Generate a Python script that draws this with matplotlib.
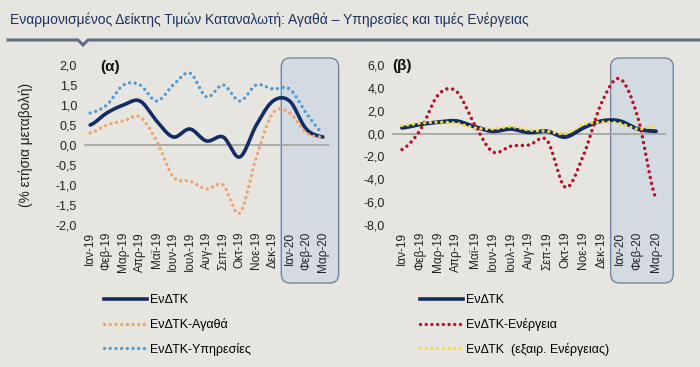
import numpy as np
import matplotlib
matplotlib.use("Agg")
import matplotlib.pyplot as plt
from matplotlib.patches import FancyBboxPatch
from matplotlib.lines import Line2D
from matplotlib.transforms import IdentityTransform

plt.rcParams['font.family'] = ['Liberation Sans', 'DejaVu Sans']

months = ["Ιαν-19", "Φεβ-19", "Μαρ-19", "Απρ-19", "Μαϊ-19", "Ιουν-19", "Ιουλ-19",
          "Αυγ-19", "Σεπ-19", "Οκτ-19", "Νοε-19", "Δεκ-19", "Ιαν-20", "Φεβ-20", "Μαρ-20"]

hicp = [0.5, 0.8, 1.0, 1.1, 0.6, 0.2, 0.4, 0.1, 0.2, -0.3, 0.5, 1.1, 1.1, 0.4, 0.2]
goods = [0.3, 0.5, 0.6, 0.7, 0.1, -0.8, -0.9, -1.1, -1.0, -1.7, -0.3, 0.8, 0.8, 0.3, 0.2]
services = [0.8, 1.0, 1.5, 1.5, 1.1, 1.5, 1.8, 1.2, 1.5, 1.1, 1.5, 1.4, 1.4, 0.8, 0.3]
energy = [-1.4, 0.3, 3.4, 3.7, 0.8, -1.6, -1.1, -1.0, -0.6, -4.7, -1.9, 2.7, 4.8, 1.4, -5.7]
ex_energy = [0.7, 0.9, 1.0, 0.9, 0.5, 0.4, 0.6, 0.3, 0.2, 0.0, 0.8, 1.0, 0.9, 0.4, 0.7]

yticks_a = [2.0, 1.5, 1.0, 0.5, 0.0, -0.5, -1.0, -1.5, -2.0]
yticks_b = [6.0, 4.0, 2.0, 0.0, -2.0, -4.0, -6.0, -8.0]

BG = "#E7E5E0"
NAVY = "#132C63"
ORANGE = "#F0A26C"
BLUE = "#4B9BD8"
RED = "#B8102A"
YELLOW = "#F3DC3C"


def smooth(y, n=20):
    """Excel-like smoothed line (uniform Catmull-Rom / Bezier through the points)."""
    y = np.asarray(y, float)
    x = np.arange(len(y), dtype=float)
    xs, ys = [], []
    for i in range(len(y) - 1):
        p0 = y[i - 1] if i > 0 else y[i]
        p3 = y[i + 2] if i + 2 < len(y) else y[i + 1]
        p1, p2 = y[i], y[i + 1]
        t = np.linspace(0, 1, n, endpoint=(i == len(y) - 2))
        c1 = p1 + (p2 - p0) / 6
        c2 = p2 - (p3 - p1) / 6
        yy = (1 - t) ** 3 * p1 + 3 * (1 - t) ** 2 * t * c1 + 3 * (1 - t) * t ** 2 * c2 + t ** 3 * p2
        xs.append(x[i] + t)
        ys.append(yy)
    return np.concatenate(xs), np.concatenate(ys)


W, H = 700, 367
fig = plt.figure(figsize=(7, 3.67), dpi=100, facecolor=BG)


def px_axes(x0, x1, ytop, ybot):
    return fig.add_axes([x0 / W, 1 - ybot / H, (x1 - x0) / W, (ybot - ytop) / H])


ax1 = px_axes(84, 329, 65, 225)
ax2 = px_axes(392, 666, 65, 225)

dot = (0, (0.01, 1.7))


def style(ax, yticks, xlim, fmt):
    ax.set_facecolor("none")
    for s in ax.spines.values():
        s.set_visible(False)
    ax.set_xlim(*xlim)
    ax.set_ylim(min(yticks), max(yticks))
    ax.set_yticks(yticks)
    ax.set_yticklabels([fmt(v) for v in yticks], fontsize=9, color="#222222")
    ax.set_xticks(range(len(months)))
    ax.set_xticklabels(months, rotation=90, fontsize=8.5, color="#222222", va="top")
    ax.tick_params(length=0, pad=5)
    ax.axhline(0, color="#A6A6A6", lw=1.3, zorder=1)


fmt = lambda v: f"{v:.1f}".replace(".", ",")
style(ax1, yticks_a, (-0.37, 14.37), fmt)
style(ax2, yticks_b, (-0.55, 14.55), fmt)

x, y = smooth(hicp)
ax1.plot(x, y, color=NAVY, lw=2.6, zorder=3, solid_capstyle="round")
x, y = smooth(goods)
ax1.plot(x, y, color=ORANGE, lw=2.4, ls=dot, dash_capstyle="round", zorder=4)
x, y = smooth(services)
ax1.plot(x, y, color=BLUE, lw=2.4, ls=dot, dash_capstyle="round", zorder=5)

x, y = smooth(hicp)
ax2.plot(x, y, color=NAVY, lw=2.8, zorder=3, solid_capstyle="round")
x, y = smooth(energy)
ax2.plot(x, y, color=RED, lw=2.5, ls=dot, dash_capstyle="round", zorder=4)
x, y = smooth(ex_energy)
ax2.plot(x, y, color=YELLOW, lw=2.4, ls=dot, dash_capstyle="round", zorder=5)

ax1.set_ylabel("(% ετήσια μεταβολή)", fontsize=9.8, color="#222222")
ax1.yaxis.set_label_coords(-0.21, 0.5)

# panel labels
fig.text(100 / W, 1 - 67 / H, "(α)", fontsize=11, fontweight="bold", va="center", color="#111111")
fig.text(392 / W, 1 - 66 / H, "(β)", fontsize=11, fontweight="bold", va="center", color="#111111")

# title and rule
fig.text(10 / W, 1 - 20 / H, "Εναρμονισμένος Δείκτης Τιμών Καταναλωτή: Αγαθά – Υπηρεσίες και τιμές Ενέργειας",
         fontsize=10, color="#1B3560", va="center", ha="left")
fig.add_artist(Line2D(np.array([8, 78, 83, 88, 700]) / W, 1 - np.array([40, 40, 45, 40, 40]) / H,
                      transform=fig.transFigure, color="#5E6E82", lw=2.2, solid_joinstyle="miter"))

# shaded boxes (drawn after layout known)
fig.canvas.draw()
for ax in (ax1, ax2):
    xa = ax.transData.transform((11.5, 0))[0]
    xb = ax.transData.transform((14.95, 0))[0]
    box = FancyBboxPatch((xa, H - 283), xb - xa, 283 - 58,
                         boxstyle="round,pad=0,rounding_size=9",
                         transform=IdentityTransform(), facecolor="#D3DAE1",
                         edgecolor="#7088A0", lw=1.0, zorder=-1)
    fig.add_artist(box)

# legends
def leg(handles, labels, xpx):
    fig.legend(handles, labels, loc="upper left", bbox_to_anchor=(xpx / W, 1 - 294 / H),
               frameon=False, fontsize=9, handlelength=3.4, handletextpad=0.25,
               labelspacing=0.95, borderpad=0, borderaxespad=0)

h_navy = Line2D([], [], color=NAVY, lw=2.6)
h_or = Line2D([], [], color=ORANGE, lw=2.4, ls=dot, dash_capstyle="round")
h_bl = Line2D([], [], color=BLUE, lw=2.4, ls=dot, dash_capstyle="round")
h_red = Line2D([], [], color=RED, lw=2.4, ls=dot, dash_capstyle="round")
h_ye = Line2D([], [], color=YELLOW, lw=2.4, ls=dot, dash_capstyle="round")
leg([h_navy, h_or, h_bl], ["ΕνΔΤΚ", "ΕνΔΤΚ-Αγαθά", "ΕνΔΤΚ-Υπηρεσίες"], 104)
leg([h_navy, h_red, h_ye], ["ΕνΔΤΚ", "ΕνΔΤΚ-Ενέργεια", "ΕνΔΤΚ  (εξαιρ. Ενέργειας)"], 420)

fig.savefig("out.png", dpi=100, facecolor=BG)
